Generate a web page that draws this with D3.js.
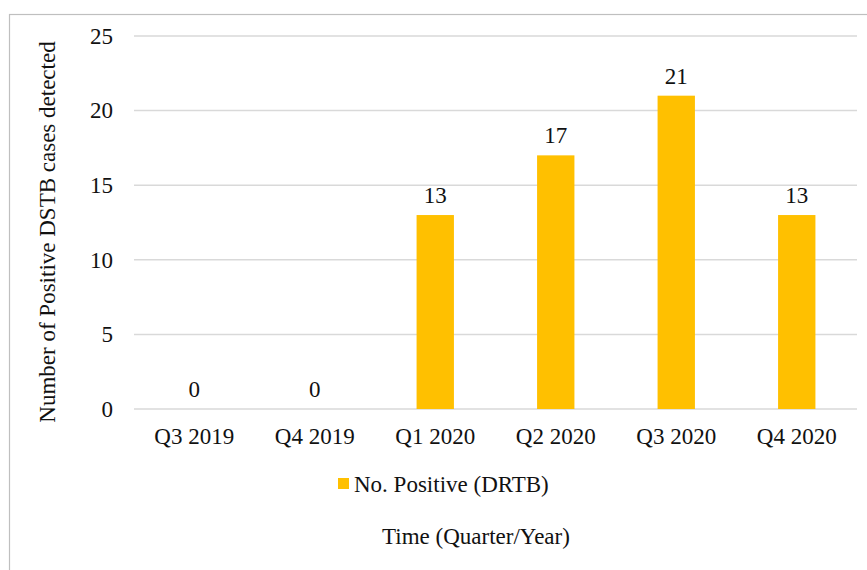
<!DOCTYPE html>
<html>
<head>
<meta charset="utf-8">
<script src="https://cdn.jsdelivr.net/npm/d3@7/dist/d3.min.js"></script>
<style>
  body { margin: 0; background: #fff; }
</style>
</head>
<body>
<div id="chart"></div>
<script>
// data
var quarters = ['Q3 2019', 'Q4 2019', 'Q1 2020', 'Q2 2020', 'Q3 2020', 'Q4 2020']
var positives = [0, 0, 13, 17, 21, 13]
var yTicks = [0, 5, 10, 15, 20, 25]
var seriesName = 'No. Positive (DRTB)'

var width = 867, height = 570
var margin = {left: 134, right: 10, top: 36, bottom: 161}
var serif = "'Liberation Serif'"

var svg = d3.select('#chart').append('svg')
    .attr('width', width)
    .attr('height', height)

// outer chart border (runs off the right / bottom edge)
svg.append('rect')
    .attr('x', 9.5).attr('y', 14.5)
    .attr('width', 900).attr('height', 600)
    .attr('fill', 'none')
    .attr('stroke', '#bfbfbf')
    .attr('stroke-width', 1.2)

var x = d3.scaleBand()
    .domain(quarters)
    .range([margin.left, width - margin.right])
    .paddingInner(0.69)
    .paddingOuter(0.345)

var y = d3.scaleLinear()
    .domain([0, 25])
    .range([409, margin.top])

function label(sel) {
    return sel.style('font-family', serif)
        .style('font-size', '23px')
        .attr('fill', '#111')
}

// gridlines
svg.append('g')
    .selectAll('line')
    .data(yTicks)
    .enter().append('line')
    .attr('x1', margin.left)
    .attr('x2', width - margin.right)
    .attr('y1', function(d) { return y(d) })
    .attr('y2', function(d) { return y(d) })
    .attr('stroke', '#d9d9d9')
    .attr('stroke-width', 1.5)

// y tick labels
svg.append('g')
    .selectAll('text')
    .data(yTicks)
    .enter().append('text')
    .attr('x', 113)
    .attr('y', function(d) { return y(d) })
    .attr('dy', '0.34em')
    .attr('text-anchor', 'end')
    .call(label)
    .text(function(d) { return d })

// bars
svg.append('g')
    .selectAll('rect')
    .data(positives)
    .enter().append('rect')
    .attr('x', function(d, i) { return x(quarters[i]) })
    .attr('y', function(d) { return y(d) })
    .attr('width', x.bandwidth())
    .attr('height', function(d) { return y(0) - y(d) })
    .attr('fill', '#ffc000')

// data labels
svg.append('g')
    .selectAll('text')
    .data(positives)
    .enter().append('text')
    .attr('x', function(d, i) { return x(quarters[i]) + x.bandwidth() / 2 })
    .attr('y', function(d) { return y(d) - 12 })
    .attr('text-anchor', 'middle')
    .call(label)
    .text(function(d) { return d })

// x tick labels
svg.append('g')
    .selectAll('text')
    .data(quarters)
    .enter().append('text')
    .attr('x', function(d) { return x(d) + x.bandwidth() / 2 })
    .attr('y', 444)
    .attr('text-anchor', 'middle')
    .call(label)
    .text(function(d) { return d })

// legend
var legend = svg.append('g')
legend.append('rect')
    .attr('x', 338).attr('y', 478)
    .attr('width', 11).attr('height', 11)
    .attr('fill', '#ffc000')
legend.append('text')
    .attr('x', 354).attr('y', 492)
    .call(label)
    .text(seriesName)

// axis titles
svg.append('text')
    .attr('x', 476).attr('y', 544)
    .attr('text-anchor', 'middle')
    .call(label)
    .text('Time (Quarter/Year)')

svg.append('text')
    .attr('transform', 'translate(55,232) rotate(-90)')
    .attr('text-anchor', 'middle')
    .call(label)
    .text('Number of Positive DSTB cases detected')
</script>
</body>
</html>
